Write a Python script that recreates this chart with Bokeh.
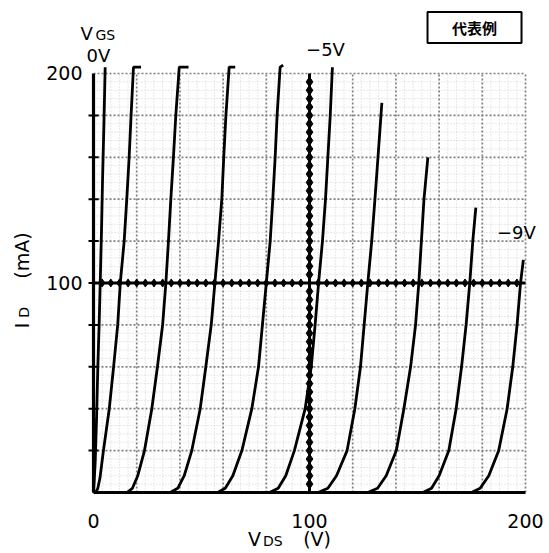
import math
from bokeh.plotting import figure
from bokeh.models import Range1d
from bokeh.embed import file_html
from bokeh.resources import INLINE
from bokeh.core.properties import value

# ---- data (VDS in V, ID in mA) ----
x_ticks = [0, 100, 200]
x_tick_labels = ["0", "100", "200"]
y_ticks = [100, 200]
y_tick_labels = ["100", "200"]
curve_labels = ["0V", "−5V", "−9V"]

vds_0v = [0.0, 0.3, 0.8, 1.4, 2.0, 2.6, 3.1, 3.7, 4.2, 4.8, 5.4]
id_0v = [0, 5, 15, 35, 60, 80, 100, 125, 150, 175, 203]

vds_1v = [1.0, 2.0, 3.0, 4.6, 7.3, 9.3, 11.2, 12.4, 14.2, 15.4, 16.5, 17.4, 18.5, 22.0]
id_1v = [0, 2, 7, 20, 40, 60, 80, 100, 120, 140, 160, 180, 203, 203]

vds_2v = [15.5, 18.0, 20.5, 23.6, 27.0, 29.6, 32.0, 33.5, 34.7, 35.8, 37.0, 38.1, 39.7, 44.0]
id_2v = [0, 2, 8, 20, 40, 60, 80, 100, 120, 140, 160, 180, 203, 203]

vds_3v = [35.5, 39.0, 42.0, 45.5, 49.4, 52.0, 54.5, 56.2, 57.9, 59.4, 60.3, 61.3, 62.8, 65.6]
id_3v = [0, 2, 8, 20, 40, 60, 80, 100, 120, 140, 160, 180, 203, 203]

vds_4v = [57.5, 61.0, 64.5, 68.7, 73.3, 76.4, 78.2, 80.0, 81.8, 83.0, 84.1, 85.0, 86.4, 87.8]
id_4v = [0, 2, 8, 20, 40, 60, 80, 100, 120, 140, 160, 180, 203, 204]

vds_5v = [81.5, 85.5, 89.0, 93.0, 98.0, 100.8, 102.6, 104.2, 106.0, 107.4, 108.5, 109.6, 110.6]
id_5v = [0, 2, 8, 20, 40, 60, 80, 100, 120, 140, 160, 180, 203]

vds_6v = [104.0, 108.5, 112.5, 117.4, 121.0, 123.6, 125.3, 127.0, 128.8, 130.3, 131.7, 133.5]
id_6v = [0, 2, 8, 20, 40, 60, 80, 100, 120, 140, 160, 186]

vds_7v = [127.0, 131.5, 135.5, 140.2, 143.7, 146.8, 149.1, 150.6, 151.8, 153.0, 154.8]
id_7v = [0, 2, 8, 20, 40, 60, 80, 100, 120, 140, 160]

vds_8v = [152.5, 156.5, 160.0, 164.5, 167.9, 170.4, 172.5, 174.2, 175.6, 177.0]
id_8v = [0, 2, 8, 20, 40, 60, 80, 100, 120, 136]

vds_9v = [175.0, 179.0, 183.0, 187.6, 191.5, 194.1, 196.1, 197.7, 199.0]
id_9v = [0, 2, 8, 20, 40, 60, 80, 100, 111]

curves = [(vds_0v, id_0v), (vds_1v, id_1v), (vds_2v, id_2v), (vds_3v, id_3v),
          (vds_4v, id_4v), (vds_5v, id_5v), (vds_6v, id_6v), (vds_7v, id_7v),
          (vds_8v, id_8v), (vds_9v, id_9v)]

FONT = "DejaVu Sans"

# whole canvas is the data frame (canvas x 0..549, y 0..553)
# V = (x - 93) / 2.16 ;  I = (492 - y) / 2.095
p = figure(width=549, height=553, output_backend="svg", toolbar_location=None,
           x_range=Range1d(-43.06, 211.11), y_range=Range1d(-29.12, 234.84),
           min_border=0, x_axis_location=None, y_axis_location=None)
p.outline_line_color = None
p.grid.visible = False
p.background_fill_color = "white"
p.border_fill_color = "white"

# fine minor grid (every 4 units)
minor = [v for v in range(4, 200, 4) if v % 20 != 0]
p.segment(x0=minor, y0=[0] * len(minor), x1=minor, y1=[200] * len(minor),
          line_color="#d0d0d0", line_width=1, line_dash="1 2")
p.segment(x0=[0] * len(minor), y0=minor, x1=[200] * len(minor), y1=minor,
          line_color="#d0d0d0", line_width=1, line_dash="1 2")

# major grid (every 20 units)
major = [v for v in range(20, 201, 20) if v != 100]
p.segment(x0=major, y0=[0] * len(major), x1=major, y1=[200] * len(major),
          line_color="#808080", line_width=1.7, line_dash="2 2")
p.segment(x0=[0] * len(major), y0=major, x1=[200] * len(major), y1=major,
          line_color="#808080", line_width=1.7, line_dash="2 2")

# centre cross with tick diamonds
p.segment(x0=[100, 0], y0=[0, 100], x1=[100, 200], y1=[200, 100],
          line_color="black", line_width=3)
ticks_pos = [v for v in range(4, 200, 4) if v != 100]
p.scatter(x=[100] * len(ticks_pos), y=ticks_pos, marker="diamond", size=10,
          color="black")
p.scatter(x=ticks_pos, y=[100] * len(ticks_pos), marker="diamond", size=8,
          color="black")

# left and bottom traces
p.segment(x0=[0, 0], y0=[0, 0], x1=[0, 200], y1=[200, 0],
          line_color="black", line_width=3.2)
left_ticks = list(range(20, 200, 20))
p.scatter(x=[0] * len(left_ticks), y=left_ticks, marker="dash", size=10,
          line_color="black", line_width=2)

# characteristic curves
for vds, idv in curves:
    p.line(vds, idv, line_color="black", line_width=2.8)

# tick labels
p.text(x=x_ticks, y=[-13.8] * len(x_ticks), text=x_tick_labels,
       text_font=value(FONT), text_font_size="19px", text_align="center",
       text_baseline="middle", text_color="black")
p.text(x=[-5.1] * len(y_ticks), y=y_ticks, text=y_tick_labels,
       text_font=value(FONT), text_font_size="19px", text_align="right",
       text_baseline="middle", text_color="black")

# "代表例" box
p.rect(x=[176.4], y=[222.0], width=94, height=31, width_units="screen",
       height_units="screen", fill_color=None, line_color="black",
       line_width=2)


def lab(x, y, t, size="18px", angle=0.0, font=FONT, style="normal",
        align="center"):
    p.text(x=[x], y=[y], text=[t], text_font=value(font),
           text_font_size=size, text_font_style=style, text_align=align,
           text_baseline="middle", angle=angle, text_color="black")


lab(176.4, 222.0, "代表例", size="15px", font="Noto Sans CJK JP", style="bold")
lab(-6.0, 219.1, "V", size="18px", align="left")
lab(0.9, 218.4, "GS", size="14px", align="left")
lab(2.3, 208.6, curve_labels[0])
lab(107.4, 211.5, curve_labels[1])
lab(195.8, 124.1, curve_labels[2])

# axis titles
lab(74.5, -22.4, "V", size="19px")
lab(83.0, -23.1, "DS", size="14px")
lab(103.5, -22.4, "(V)", size="19px")
lab(-32.9, 79.7, "I", size="19px", angle=math.pi / 2)
lab(-32.2, 86.0, "D", size="14px", angle=math.pi / 2)
lab(-32.9, 113.1, "(mA)", size="19px", angle=math.pi / 2)

open("out.html", "w").write(file_html(p, INLINE))
